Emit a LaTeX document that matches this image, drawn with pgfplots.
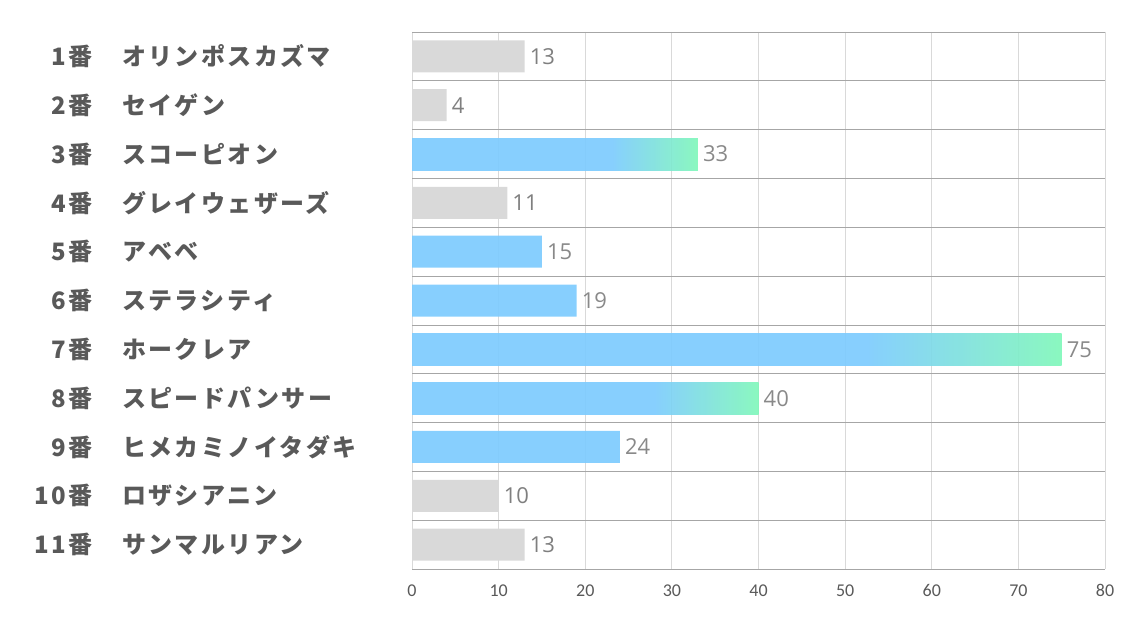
\documentclass[border=0pt]{standalone}
\usepackage{fontspec}
\usepackage{pgfplots}
\pgfplotsset{compat=1.18}
\setmainfont{Open Sans}
\newfontfamily\jp[LetterSpace=10]{Noto Sans CJK JP}
\newfontfamily\tickf{Carlito}
\definecolor{txt}{HTML}{595959}
\definecolor{valc}{HTML}{7F7F7F}
\definecolor{bargrey}{HTML}{D9D9D9}
\definecolor{barblue}{HTML}{7DCBFE}
\definecolor{bargreen}{HTML}{80F7BA}
\definecolor{hline}{HTML}{A6A6A6}
\definecolor{vline}{HTML}{D9D9D9}
\pgfdeclarehorizontalshading{bargrad}{100bp}{color(0bp)=(barblue); color(25bp)=(barblue); color(60bp)=(barblue); color(75bp)=(bargreen); color(100bp)=(bargreen)}
\newcommand{\lab}[2]{\makebox[52pt][r]{#1番}\hspace{30pt}#2}
\begin{document}
\begin{tikzpicture}
\path[use as bounding box] (0,0) rectangle (1134pt,623pt);
\begin{axis}[
  at={(412pt,54pt)}, anchor=south west,
  width=693pt, height=537pt, scale only axis,
  xbar, bar width=32pt,
  xmin=0, xmax=80, ymin=0.5, ymax=11.5, y dir=reverse,
  xtick={0,10,...,80},
  ytick={1,...,11},
  minor ytick={0.5,1.5,...,11.5},
  yticklabels={\lab{1}{オリンポスカズマ},\lab{2}{セイゲン},\lab{3}{スコーピオン},\lab{4}{グレイウェザーズ},\lab{5}{アベベ},\lab{6}{ステラシティ},\lab{7}{ホークレア},\lab{8}{スピードパンサー},\lab{9}{ヒメカミノイタダキ},\lab{10}{ロザシアニン},\lab{11}{サンマルリアン}},
  yticklabel style={font=\jp\bfseries\fontsize{24}{28}\selectfont, text=txt, anchor=west, xshift=-372pt, inner sep=0pt},
  xticklabel style={font=\tickf\fontsize{18}{21}\selectfont, text=txt, yshift=-12pt},
  /pgf/number format/assume math mode=true,
  major tick length=0pt, minor tick length=0pt,
  axis line style={draw=none},
  xmajorgrids, major grid style={draw=vline, line width=0.8pt},
  yminorgrids, minor grid style={draw=hline, line width=0.8pt},
  point meta=x,
  nodes near coords,
  nodes near coords align={horizontal},
  every node near coord/.append style={font=\fontsize{22}{26}\selectfont, text=valc, anchor=west, inner sep=5pt},
]
\addplot[bar shift=0pt, draw=none, fill=bargrey] coordinates {(13,1) (4,2) (11,4) (10,10) (13,11)};
\addplot[bar shift=0pt, draw=none, fill=barblue, fill opacity=0.92] coordinates {(15,5) (19,6) (24,9)};
\addplot[bar shift=0pt, draw=none, shade, shading=bargrad, fill opacity=0.92] coordinates {(33,3)};
\addplot[bar shift=0pt, draw=none, shade, shading=bargrad, fill opacity=0.92] coordinates {(75,7)};
\addplot[bar shift=0pt, draw=none, shade, shading=bargrad, fill opacity=0.92] coordinates {(40,8)};
\end{axis}
\end{tikzpicture}
\end{document}
